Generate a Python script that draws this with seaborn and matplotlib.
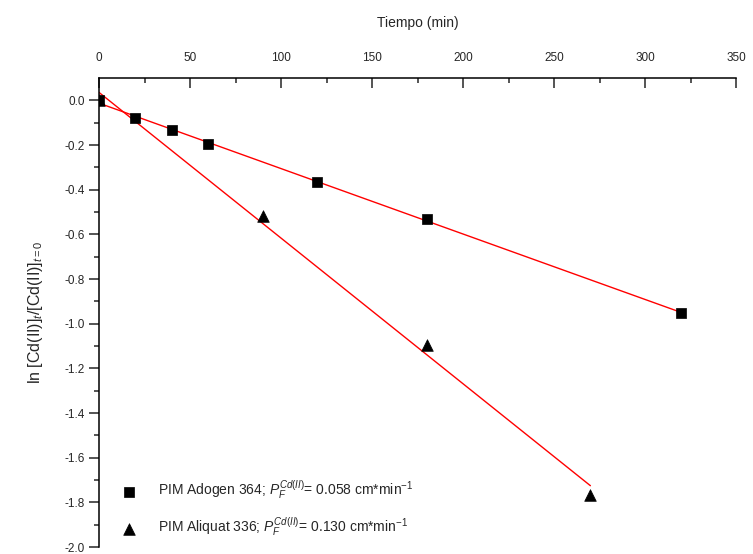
import matplotlib
matplotlib.use("Agg")
import matplotlib.pyplot as plt
import seaborn as sns
import pandas as pd
import numpy as np

# Data
t_adogen = [0, 20, 40, 60, 120, 180, 320]
y_adogen = [0.0, -0.078, -0.134, -0.195, -0.365, -0.532, -0.952]
t_aliquat = [0, 90, 180, 270]
y_aliquat = [0.0, -0.52, -1.095, -1.765]
label_adogen = r"PIM Adogen 364; $P_F^{Cd(II)}$= 0.058 cm*min$^{-1}$"
label_aliquat = r"PIM Aliquat 336; $P_F^{Cd(II)}$= 0.130 cm*min$^{-1}$"
x_ticks = [0, 50, 100, 150, 200, 250, 300, 350]
y_ticks = [0.0, -0.2, -0.4, -0.6, -0.8, -1.0, -1.2, -1.4, -1.6, -1.8, -2.0]

df_a = pd.DataFrame({"t": t_adogen, "y": y_adogen})
df_b = pd.DataFrame({"t": t_aliquat, "y": y_aliquat})

sns.set_theme(style="ticks")
plt.rcParams["font.family"] = ["Liberation Sans", "DejaVu Sans"]
plt.rcParams["mathtext.fontset"] = "custom"
plt.rcParams["mathtext.rm"] = "Liberation Sans"
plt.rcParams["mathtext.it"] = "Liberation Sans:italic"

fig = plt.figure(figsize=(7.53, 5.54), dpi=100)
ax = fig.add_axes([99 / 753, 1 - 547 / 554, (736 - 99) / 753, (547 - 78) / 554])

sns.regplot(data=df_a, x="t", y="y", ax=ax, scatter=False, ci=None, truncate=True,
            line_kws=dict(color="red", lw=1.0))
sns.regplot(data=df_b, x="t", y="y", ax=ax, scatter=False, ci=None, truncate=True,
            line_kws=dict(color="red", lw=1.0))
sns.scatterplot(data=df_a, x="t", y="y", ax=ax, marker="s", s=45, color="black",
                edgecolor="black", linewidth=0.5, label=label_adogen, zorder=5)
sns.scatterplot(data=df_b, x="t", y="y", ax=ax, marker="^", s=70, color="black",
                edgecolor="black", linewidth=0.5, label=label_aliquat, zorder=5)

ax.set_xlim(0, 350)
ax.set_ylim(-2.0, 0.1)
ax.set_xticks(x_ticks)
ax.set_xticklabels([str(v) for v in x_ticks])
ax.set_xticks(np.arange(25, 350, 50), minor=True)
ax.set_yticks(y_ticks)
ax.set_yticklabels([f"{v:.1f}" for v in y_ticks])
ax.set_yticks(np.arange(-1.9, 0.05, 0.2), minor=True)

ax.xaxis.tick_top()
ax.xaxis.set_label_position("top")
ax.tick_params(axis="x", which="major", direction="in", length=7, width=1.1,
               labelsize=8.5, pad=10, top=True, bottom=False)
ax.tick_params(axis="x", which="minor", direction="in", length=3.5, width=1.1,
               top=True, bottom=False)
ax.tick_params(axis="y", which="major", direction="out", length=7, width=1.1,
               labelsize=8.5, pad=3)
ax.tick_params(axis="y", which="minor", direction="out", length=3.5, width=1.1)

for side in ["right", "bottom"]:
    ax.spines[side].set_visible(False)
for side in ["top", "left"]:
    ax.spines[side].set_linewidth(1.1)
    ax.spines[side].set_color("black")

ax.set_xlabel("Tiempo (min)", fontsize=10, labelpad=18)
ax.set_ylabel(r"ln [Cd(II)]$_t$/[Cd(II)]$_{t=0}$", fontsize=11.5, labelpad=14)

ax.legend(loc="lower left", bbox_to_anchor=(0.012, 0.0), frameon=False,
          fontsize=10, handletextpad=1.1, labelspacing=1.0, borderaxespad=0.2)

fig.savefig("out.png", dpi=100)
